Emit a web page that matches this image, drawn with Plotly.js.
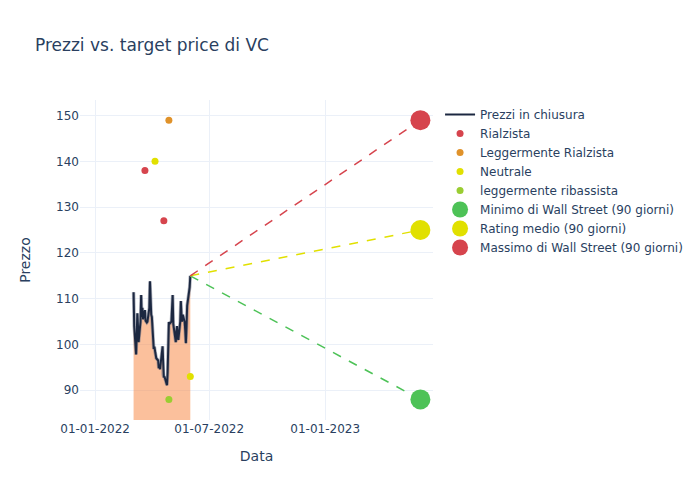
<!DOCTYPE html>
<html>
<head>
<meta charset="utf-8">
<script src="https://cdn.plot.ly/plotly-3.0.1.min.js"></script>
<style>html,body{margin:0;padding:0;background:#fff}#chart{width:700px;height:500px}</style>
</head>
<body>
<div id="chart"></div>
<script>
const priceDates = [
  '2022-03-03','2022-03-04','2022-03-07','2022-03-08','2022-03-09','2022-03-10','2022-03-11',
  '2022-03-14','2022-03-15','2022-03-16','2022-03-17','2022-03-18',
  '2022-03-21','2022-03-22','2022-03-23','2022-03-24','2022-03-25',
  '2022-03-28','2022-03-29','2022-03-30','2022-03-31','2022-04-01',
  '2022-04-04','2022-04-05','2022-04-06','2022-04-07','2022-04-08',
  '2022-04-11','2022-04-12','2022-04-13','2022-04-14',
  '2022-04-18','2022-04-19','2022-04-20','2022-04-21','2022-04-22',
  '2022-04-25','2022-04-26','2022-04-27','2022-04-28','2022-04-29',
  '2022-05-02','2022-05-03','2022-05-04','2022-05-05','2022-05-06',
  '2022-05-09','2022-05-10','2022-05-11','2022-05-12','2022-05-13',
  '2022-05-16','2022-05-17','2022-05-18','2022-05-19','2022-05-20',
  '2022-05-23','2022-05-24','2022-05-25','2022-05-26','2022-05-27',
  '2022-05-31','2022-06-01'
];
const priceValues = [
  111.4, 104.0, 97.8, 102.0, 106.8, 104.0, 100.5,
  105.0, 110.8, 106.0, 108.0, 105.5,
  107.5, 105.2, 105.0, 104.8, 105.0,
  108.0, 113.8, 108.5, 106.5, 106.0,
  99.0, 99.5, 98.5, 97.0, 97.0,
  96.5, 94.8, 95.3, 94.6,
  99.6, 93.5, 92.8, 93.0, 92.5,
  91.1, 94.0, 99.5, 104.9, 104.5,
  105.0, 108.0, 110.8, 104.5, 103.5,
  100.5, 103.0, 104.0, 101.5, 101.0,
  105.0, 109.5, 106.5, 105.0, 106.5,
  105.0, 103.0, 100.3, 104.0, 108.5,
  112.5, 115.0
];

// Analyst ratings
const rialzistaDates = ['2022-03-21', '2022-04-20'];
const rialzistaValues = [138, 127];
const leggRialzistaDates = ['2022-04-28'];
const leggRialzistaValues = [149];
const neutraleDates = ['2022-04-06', '2022-06-01'];
const neutraleValues = [140, 93];
const leggRibassistaDates = ['2022-04-28'];
const leggRibassistaValues = [88];

// Targets (90 days)
const targetDate = '2023-06-01';
const targetMin = 88;
const targetAvg = 125;
const targetMax = 149;

const lastDate = priceDates[priceDates.length - 1];
const lastPrice = priceValues[priceValues.length - 1];

const RED = '#d6444d', YELLOW = '#e1e000', GREEN = '#4dc257', ORANGE = '#e0922a', YGREEN = '#9acd32';

const traces = [
  {x: priceDates, y: priceValues, type: 'scatter', mode: 'lines', showlegend: false, hoverinfo: 'skip',
   line: {color: 'rgba(110,115,135,0.55)', width: 3.5}, fill: 'tozeroy', fillcolor: 'rgba(247,140,75,0.55)'},
  {x: priceDates, y: priceValues, type: 'scatter', mode: 'lines', name: 'Prezzi in chiusura',
   line: {color: '#1c2841', width: 2}},
  {x: rialzistaDates, y: rialzistaValues, type: 'scatter', mode: 'markers', name: 'Rialzista',
   marker: {color: RED, size: 7}},
  {x: leggRialzistaDates, y: leggRialzistaValues, type: 'scatter', mode: 'markers', name: 'Leggermente Rialzista',
   marker: {color: ORANGE, size: 7}},
  {x: neutraleDates, y: neutraleValues, type: 'scatter', mode: 'markers', name: 'Neutrale',
   marker: {color: YELLOW, size: 7}},
  {x: leggRibassistaDates, y: leggRibassistaValues, type: 'scatter', mode: 'markers', name: 'leggermente ribassista',
   marker: {color: YGREEN, size: 7}},
  {x: [lastDate, targetDate], y: [lastPrice, targetMin], type: 'scatter', mode: 'lines', showlegend: false,
   line: {color: GREEN, width: 1.5, dash: 'dash'}, hoverinfo: 'skip'},
  {x: [lastDate, targetDate], y: [lastPrice, targetAvg], type: 'scatter', mode: 'lines', showlegend: false,
   line: {color: YELLOW, width: 1.5, dash: 'dash'}, hoverinfo: 'skip'},
  {x: [lastDate, targetDate], y: [lastPrice, targetMax], type: 'scatter', mode: 'lines', showlegend: false,
   line: {color: RED, width: 1.5, dash: 'dash'}, hoverinfo: 'skip'},
  {x: [targetDate], y: [targetMin], type: 'scatter', mode: 'markers', name: 'Minimo di Wall Street (90 giorni)',
   marker: {color: GREEN, size: 20}},
  {x: [targetDate], y: [targetAvg], type: 'scatter', mode: 'markers', name: 'Rating medio (90 giorni)',
   marker: {color: YELLOW, size: 20}},
  {x: [targetDate], y: [targetMax], type: 'scatter', mode: 'markers', name: 'Massimo di Wall Street (90 giorni)',
   marker: {color: RED, size: 20}}
];

const layout = {
  width: 700, height: 500,
  margin: {l: 80, r: 20, t: 100, b: 80},
  paper_bgcolor: '#fff', plot_bgcolor: '#fff',
  font: {family: '"DejaVu Sans", verdana, sans-serif', size: 12, color: '#2a3f5f'},
  title: {text: 'Prezzi vs. target price di VC', x: 0.05, xanchor: 'left', y: 0.91, yanchor: 'middle',
          font: {size: 17, color: '#2a3f5f'}},
  xaxis: {title: {text: 'Data', font: {size: 14}, standoff: 16}, automargin: true, type: 'date',
          range: ['2021-12-08', '2023-06-21'],
          tickformat: '%d-%m-%Y', dtick: 'M6', tick0: '2022-01-01', gridcolor: '#EBF0F8', zeroline: false,
          showline: false, ticks: ''},
  yaxis: {title: {text: 'Prezzo', font: {size: 14}, standoff: 22}, automargin: true,
          range: [83.5, 153.4], dtick: 10, gridcolor: '#EBF0F8',
          zeroline: false, showline: false, ticks: ''},
  legend: {x: 1.02, y: 1, xanchor: 'left', yanchor: 'top', font: {size: 12}},
  showlegend: true
};

Plotly.newPlot('chart', traces, layout, {displayModeBar: false, staticPlot: true});
</script>
</body>
</html>
